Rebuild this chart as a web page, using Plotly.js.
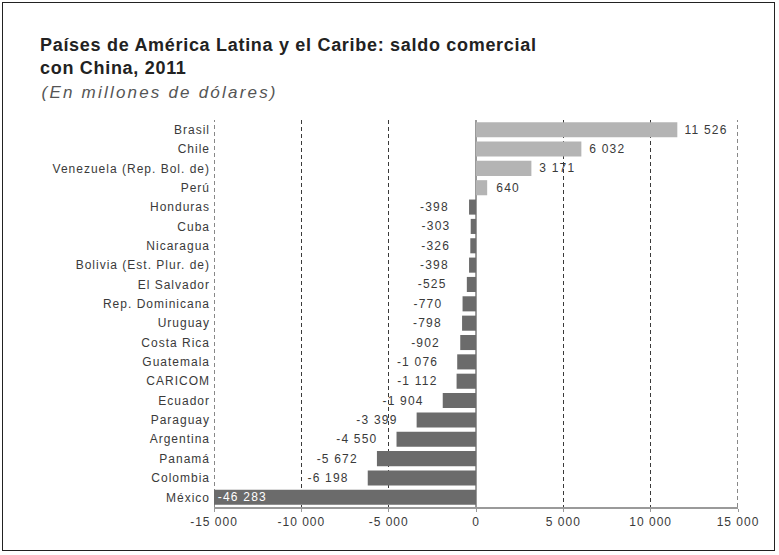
<!DOCTYPE html>
<html>
<head>
<meta charset="utf-8">
<script src="https://cdn.plot.ly/plotly-3.0.1.min.js"></script>
<style>
html,body{margin:0;padding:0;background:#fff;}
#frame{position:absolute;left:2px;top:2px;width:773px;height:549px;border:1.5px solid #222;box-sizing:border-box;pointer-events:none;}
#chart{position:absolute;left:0;top:0;width:779px;height:555px;}
#chart .ytick text{letter-spacing:1px;}
#chart .xtick text{letter-spacing:1px;}
#chart .bartext{letter-spacing:1.2px;}
#chart .gtitle{letter-spacing:0.7px;}
#chart .annotation text{letter-spacing:1.2px;}
#chart .annotation[data-index="0"] text{letter-spacing:2.2px;}
</style>
</head>
<body>
<div id="chart"></div>
<div id="frame"></div>
<script>
const countries = ["Brasil","Chile","Venezuela (Rep. Bol. de)","Perú","Honduras","Cuba","Nicaragua","Bolivia (Est. Plur. de)","El Salvador","Rep. Dominicana","Uruguay","Costa Rica","Guatemala","CARICOM","Ecuador","Paraguay","Argentina","Panamá","Colombia","México"];
const balance = [11526,6032,3171,640,-398,-303,-326,-398,-525,-770,-798,-902,-1076,-1112,-1904,-3399,-4550,-5672,-6198,-46283];
const tickValues = [-15000,-10000,-5000,0,5000,10000,15000];
const tickLabels = ["-15 000","-10 000","-5 000","0","5 000","10 000","15 000"];
const axisMin = -15000, axisMax = 15000;
const subtitle = "(En millones de dólares)";
const titleText = "Países de América Latina y el Caribe: saldo comercial<br>con China, 2011";

function fmt(v){
  const s = Math.abs(v).toString().replace(/\B(?=(\d{3})+(?!\d))/g, " ");
  return (v < 0 ? "-" : "") + s;
}
const labels = balance.map(v => v < axisMin ? "" : (v < 0 ? fmt(v) + "     " : "  " + fmt(v)));
const colors = balance.map(v => v >= 0 ? "#b4b4b4" : "#6b6b6b");

const trace = {
  type: "bar",
  orientation: "h",
  y: countries,
  x: balance,
  marker: {color: colors, line: {width: 0}},
  width: 0.78,
  text: labels,
  textposition: "outside",
  textfont: {size: 12, color: "#3a3a3a", family: "Liberation Sans, Arial, sans-serif"},
  cliponaxis: true,
  hoverinfo: "x+y"
};

const clipped = countries.map((c,i)=>({c, v: balance[i]})).filter(d => d.v < axisMin);

const edgeLines = [axisMin, axisMax].map(v => ({
  type: "line", xref: "x", yref: "paper", x0: v, x1: v, y0: 0, y1: 1,
  line: {color: "#3a3a3a", width: 1.2, dash: "4px,3px"}, layer: "below"
}));

const layout = {
  width: 779, height: 555,
  margin: {l: 214, r: 41, t: 120, b: 48},
  paper_bgcolor: "#fff", plot_bgcolor: "#fff",
  font: {family: "Liberation Sans, Arial, sans-serif", color: "#3a3a3a", size: 12},
  showlegend: false,
  title: {
    text: "<b>" + titleText + "</b>",
    xref: "container", yref: "container", x: 40/779, xanchor: "left", y: 1 - 51/555, yanchor: "top",
    font: {size: 18, color: "#222", family: "Liberation Sans, Arial, sans-serif"}
  },
  xaxis: {
    range: [axisMin, axisMax],
    tickvals: tickValues, ticktext: tickLabels,
    showgrid: true, gridcolor: "#3a3a3a", griddash: "4px,3px", gridwidth: 1.2,
    zeroline: true, zerolinecolor: "#9a9a9a", zerolinewidth: 1.5,
    showline: true, linecolor: "#9a9a9a", linewidth: 1.5,
    ticks: "outside", ticklen: 3, tickcolor: "#9a9a9a",
    tickfont: {size: 12, color: "#3a3a3a"},
    fixedrange: true
  },
  yaxis: {
    type: "category",
    autorange: "reversed",
    showgrid: false, zeroline: false, showline: false, ticks: "",
    tickfont: {size: 12, color: "#3a3a3a"},
    ticklabelstandoff: 3,
    fixedrange: true
  },
  yaxis2: {
    overlaying: "y", anchor: "free", position: 0.5, side: "left",
    range: [countries.length - 0.5, -0.5], tick0: 0.5, dtick: 1,
    ticks: "outside", ticklen: 4, tickcolor: "#aaa", tickwidth: 1,
    showticklabels: false, showgrid: false, zeroline: false, showline: false,
    fixedrange: true
  },
  shapes: edgeLines,
  annotations: [
    {text: "<i>" + subtitle + "</i>", xref: "paper", yref: "paper",
     x: (40-214)/524, xanchor: "left", y: 1 + (120-92)/387, yanchor: "middle",
     xshift: 26, showarrow: false, font: {size: 17, color: "#555"}}
  ].concat(clipped.map(d => ({
     text: fmt(d.v), x: axisMin, y: d.c, xref: "x", yref: "y", xanchor: "left", yanchor: "middle",
     xshift: 6, showarrow: false, font: {size: 12, color: "#fff"}
  })))
};

Plotly.newPlot("chart", [trace], layout, {displayModeBar: false, staticPlot: true});
</script>
</body>
</html>
